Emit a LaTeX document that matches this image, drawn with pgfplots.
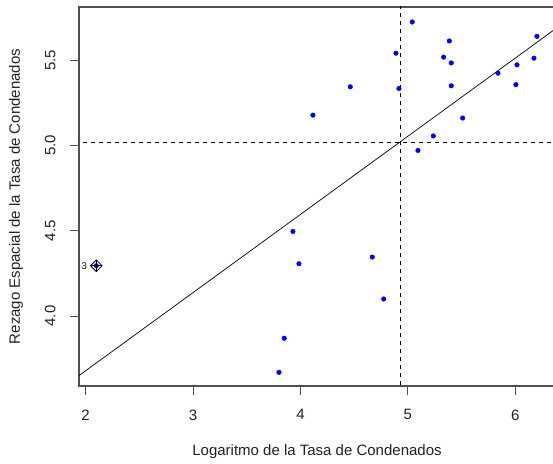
\documentclass[border=0pt]{standalone}
\usepackage{pgfplots}
\pgfplotsset{compat=1.18}
\usepackage{fontspec}
\setmainfont{Liberation Sans}
\definecolor{axgray}{HTML}{505050}
\definecolor{txt}{HTML}{222222}
\pgfplotstableread{
x y
5.041 5.724
5.386 5.613
4.889 5.541
5.333 5.518
5.404 5.484
6.202 5.640
6.174 5.512
6.016 5.473
5.839 5.424
6.006 5.357
5.404 5.350
4.464 5.344
4.917 5.334
4.116 5.178
5.510 5.161
5.237 5.056
5.094 4.971
3.930 4.496
3.986 4.307
4.669 4.346
4.775 4.100
3.849 3.870
3.800 3.670
2.099 4.295
}\datatab
\begin{document}
\begin{tikzpicture}
\begin{axis}[
  scale only axis, width=476pt, height=379pt,
  xmin=1.938, xmax=6.370, ymin=3.59, ymax=5.812,
  xtick={2,3,4,5,6}, ytick={4,4.5,5,5.5},
  tick pos=left, tick align=outside,
  major tick length=9pt,
  every tick/.style={axgray, line width=1pt},
  axis line style={axgray, line width=1.2pt},
  /pgf/number format/assume math mode=true,
  tick label style={font=\fontsize{15}{18}\selectfont, text=txt},
  xticklabel style={anchor=north, yshift=-11pt},
  yticklabel style={xshift=-11pt, rotate=90, anchor=south, /pgf/number format/fixed, /pgf/number format/fixed zerofill, /pgf/number format/precision=1},
  xlabel={Logaritmo de la Tasa de Condenados},
  ylabel={Rezago Espacial de la Tasa de Condenados},
  every axis x label/.style={at={([yshift=-66pt]axis description cs:0.5,0)}, anchor=center, font=\fontsize{15}{18}\selectfont, text=txt},
  every axis y label/.style={at={([xshift=-63pt]axis description cs:0,0.5)}, anchor=center, rotate=90, font=\fontsize{15}{18}\selectfont, text=txt},
  clip=true,
]
\coordinate (SW) at (rel axis cs:0,0);
\coordinate (NE) at (rel axis cs:1,1);
% regression line
\addplot[black, line width=0.7pt] coordinates {(1.938,3.651) (6.370,5.682)};
% mean lines
\addplot[black, line width=0.8pt, dash pattern=on 4.5pt off 3.5pt] coordinates {(4.926,3.5) (4.926,5.9)};
\addplot[black, line width=0.8pt, dash pattern=on 4.5pt off 3.5pt] coordinates {(1.9,5.02) (6.5,5.02)};
% points
\addplot[only marks, mark=*, mark size=2.3pt, blue, mark options={draw=blue, fill=blue}] table[x=x, y=y] {\datatab};
% influential point
\addplot[only marks, mark=square, mark size=4.1pt, mark options={rotate=45, draw=black, line width=0.8pt}] coordinates {(2.099,4.295)};
\addplot[only marks, mark=+, mark size=5.8pt, mark options={draw=black, line width=0.8pt},
  nodes near coords={3},
  every node near coord/.append style={anchor=east, font=\fontsize{10}{12}\selectfont, text=txt, inner sep=0pt, xshift=-9pt}] coordinates {(2.099,4.295)};
\end{axis}
\pgfresetboundingbox
\path[use as bounding box] ([xshift=-79pt,yshift=-78pt]SW) rectangle ([xshift=-2pt,yshift=7pt]NE);
\end{tikzpicture}
\end{document}
